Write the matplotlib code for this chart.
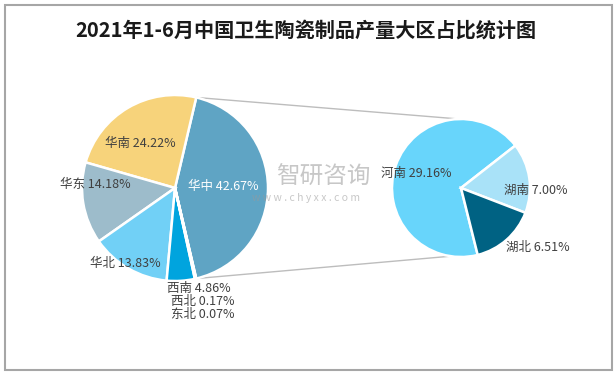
import matplotlib
matplotlib.use("Agg")
import matplotlib.pyplot as plt
import numpy as np
from matplotlib.patches import Rectangle

plt.rcParams['font.family'] = ['Noto Sans CJK SC', 'DejaVu Sans']

title = "2021年1-6月中国卫生陶瓷制品产量大区占比统计图"

# main pie: 华中 is split out in the small pie
regions = ["华中", "华南", "华东", "华北", "西南", "西北", "东北"]
shares = [42.67, 24.22, 14.18, 13.83, 4.86, 0.17, 0.07]
colors_main = ["#5fa4c4", "#f7d37b", "#9dbccb", "#71d0f6", "#00a4de", "#2f8fbf", "#7fb2c9"]

# breakdown of 华中
provinces = ["河南", "湖南", "湖北"]
prov_shares = [29.16, 7.00, 6.51]
colors_sub = ["#68d5fb", "#a9e2f8", "#006283"]

W, H = 616, 374
fig = plt.figure(figsize=(W / 100, H / 100), dpi=100)
ax = fig.add_axes([0, 0, 1, 1])

def py(y):
    return H - y

c1, r1 = (175, py(188)), 93
c2, r2 = (461, py(188)), 69

# left pie, 华中 centred on the right side
start1 = -shares[0] * 3.6 / 2
ax.pie(shares, colors=colors_main, center=c1, radius=r1, startangle=start1,
       counterclock=True, wedgeprops=dict(edgecolor='white', linewidth=1.8),
       frame=True)

# right pie
edge_hunan = 38
start2 = edge_hunan + prov_shares[0] / sum(prov_shares) * 360
ax.pie(prov_shares, colors=colors_sub, center=c2, radius=r2, startangle=start2,
       counterclock=False, wedgeprops=dict(edgecolor='white', linewidth=1.8),
       frame=True)
ax.set_xlim(0, W)
ax.set_ylim(0, H)
ax.set_aspect('equal')
ax.axis('off')

# frame
ax.add_patch(Rectangle((4.5, 4.5), 607, 365, fill=False, ec="#a6a6a6", lw=1.5))

ax.text(306, py(30), title, ha='center', va='center', fontsize=14.5,
        fontweight='bold', color='#1a1a1a')

# connector lines
a = np.deg2rad(-start1)
p_top = (c1[0] + r1 * np.cos(a), c1[1] + r1 * np.sin(a))
p_bot = (c1[0] + r1 * np.cos(-a), c1[1] + r1 * np.sin(-a))
q_top = (c2[0] - 2, c2[1] + r2)
q_bot = (c2[0] - 8, c2[1] - r2 + 1)
ax.plot([p_top[0], q_top[0]], [p_top[1], q_top[1]], color='#bdbdbd', lw=1, zorder=0)
ax.plot([p_bot[0], q_bot[0]], [p_bot[1], q_bot[1]], color='#bdbdbd', lw=1, zorder=0)

# watermark
ax.text(323, py(177), "智研咨询", ha='center', va='center', fontsize=17,
        color='#9a9a9a', alpha=0.55, zorder=5)
ax.text(306, py(198), "w w w . c h y x x . c o m", ha='center', va='center',
        fontsize=7.5, color='#9a9a9a', alpha=0.55, zorder=5)

# labels
main_pos = [(223, 186), (140, 143), (95, 184), (125, 263), (199, 288), (203, 301), (203, 314)]
for name, v, (x, y) in zip(regions, shares, main_pos):
    col = 'white' if name == "华中" else '#404040'
    ax.text(x, py(y), f"{name} {v:.2f}%", ha='center', va='center',
            fontsize=9, color=col, zorder=6)

sub_pos = [(416, 173), (536, 190), (538, 247)]
for name, v, (x, y) in zip(provinces, prov_shares, sub_pos):
    ax.text(x, py(y), f"{name} {v:.2f}%", ha='center', va='center',
            fontsize=9, color='#404040', zorder=6)

fig.savefig("out.png", dpi=100)
